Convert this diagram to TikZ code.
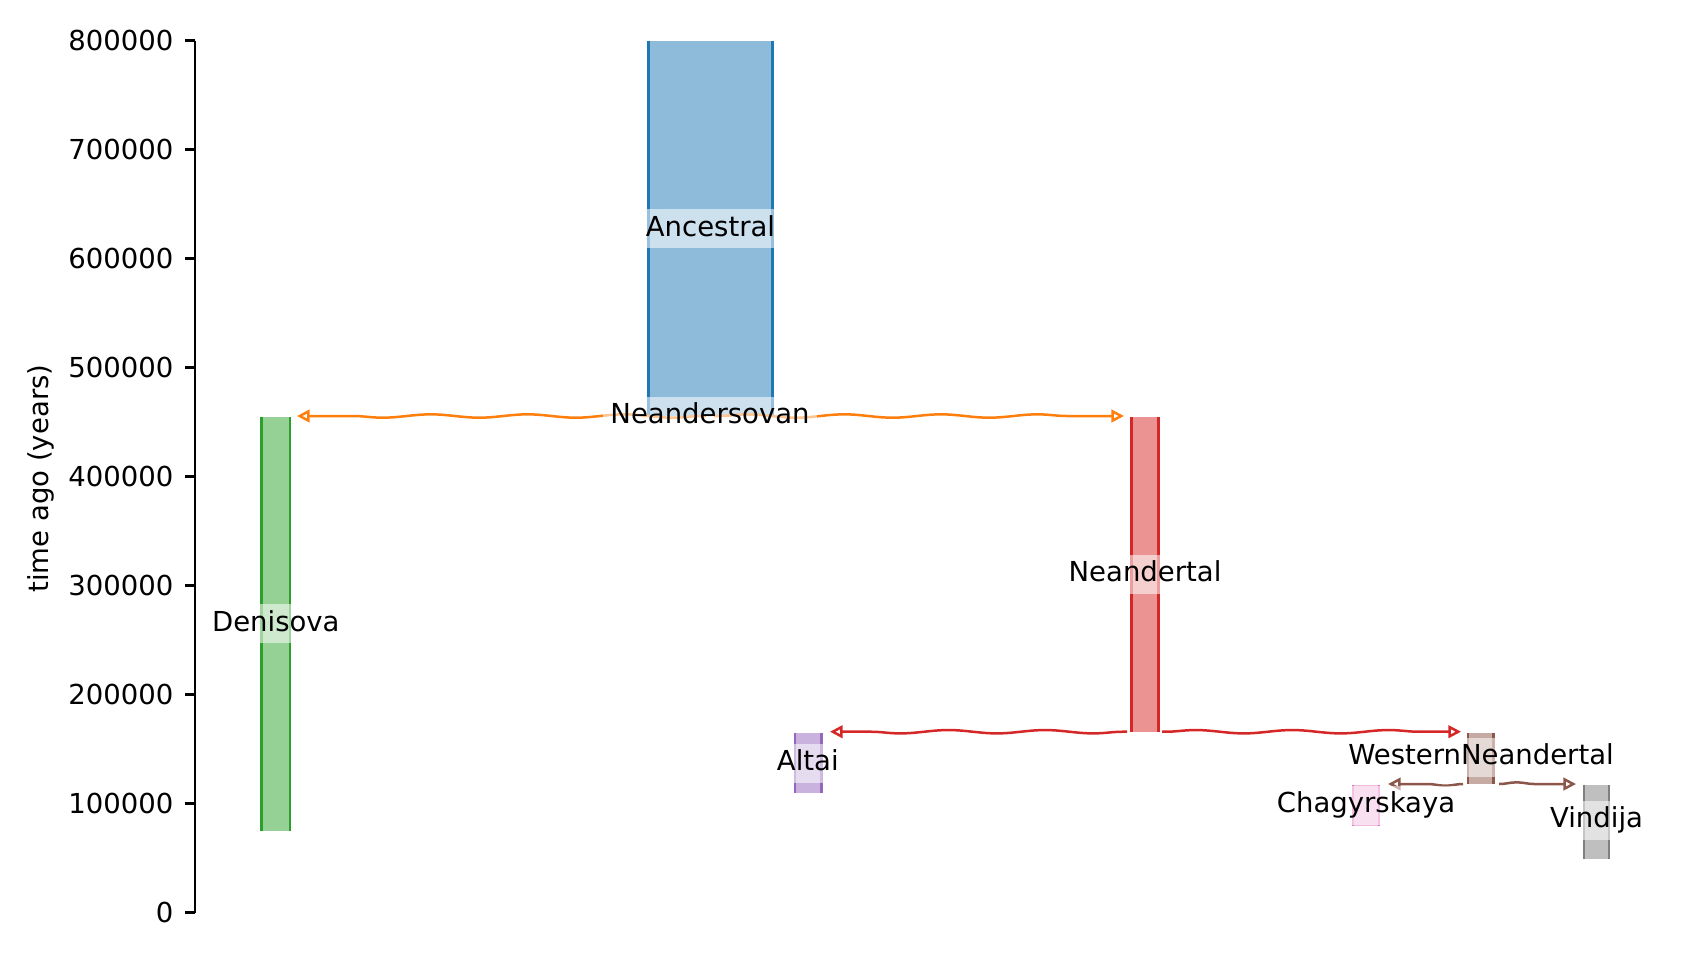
\documentclass[tikz,border=0pt]{standalone}
\usepackage{fontspec}
\setmainfont{DejaVu Sans}
\usetikzlibrary{arrows.meta,decorations.pathmorphing}
\definecolor{tabblue}{HTML}{1F77B4}
\definecolor{taborange}{HTML}{FF7F0E}
\definecolor{tabgreen}{HTML}{2CA02C}
\definecolor{tabred}{HTML}{D62728}
\definecolor{tabpurple}{HTML}{9467BD}
\definecolor{tabbrown}{HTML}{8C564B}
\definecolor{tabpink}{HTML}{E377C2}
\definecolor{tabgray}{HTML}{7F7F7F}
\tikzset{
  axisline/.style={line width=0.75pt, black},
  ticklabel/.style={anchor=east, inner sep=0pt},
  demeedge/.style={line width=0.85pt},
  demelabel/.style={fill=white, fill opacity=0.55, text opacity=1, inner xsep=2.3pt, inner ysep=0pt,
    text height=6.2pt, text depth=1.7pt, minimum height=11.7pt},
  mig/.style={line width=0.75pt, -{Triangle[open,length=3.8pt,width=3.8pt]},
    decorate, decoration={snake, amplitude=0.5pt, segment length=29pt, post length=4.5pt, pre length=1pt}},
  migshort/.style={mig, decoration={snake, amplitude=0.5pt, segment length=17pt, post length=4.5pt, pre length=0pt}},
}
\newcommand{\demebar}[6]{%
  \fill[#2!50!white] (#3,#5) rectangle (#4,#6);
  \draw[#2, demeedge] (#3,#5) -- (#3,#6);
  \draw[#2, demeedge] (#4,#5) -- (#4,#6);
  \coordinate (#1-l) at (#3,#5);
  \coordinate (#1-r) at (#4,#5);
}
\begin{document}
\begin{tikzpicture}[x=0.3pt, y=-0.3pt, font=\fontsize{8.25}{10}\selectfont]
\useasboundingbox (0,0) rectangle (1705,960);
% axis
\draw[axisline] (195,40.7) -- (195,912.7);
\foreach \k in {0,...,8} {
  \draw[axisline] (185,912.7-109*\k) -- (195,912.7-109*\k);
}
\node[ticklabel] (t0) at (174,912.7) {0};
\node[ticklabel] (t1) at (174,803.7) {100000};
\node[ticklabel] (t2) at (174,694.7) {200000};
\node[ticklabel] (t3) at (174,585.7) {300000};
\node[ticklabel] (t4) at (174,476.7) {400000};
\node[ticklabel] (t5) at (174,367.7) {500000};
\node[ticklabel] (t6) at (174,258.7) {600000};
\node[ticklabel] (t7) at (174,149.7) {700000};
\node[ticklabel] (t8) at (174,40.7) {800000};
\node[rotate=90] (ylab) at (41,478.5) {time ago (years)};
% demes
\demebar{anc}{tabblue}{648.3}{772.7}{40.7}{416}
\demebar{den}{tabgreen}{261.7}{290}{417}{830.7}
\demebar{nea}{tabred}{1131.7}{1158.3}{417}{731.7}
\demebar{alt}{tabpurple}{795}{821.5}{732.5}{793}
\demebar{wn}{tabbrown}{1468}{1493.5}{733}{784}
\demebar{cha}{tabpink}{1353}{1379}{785}{826}
\demebar{vin}{tabgray}{1584}{1609}{785}{859}
% migration / ancestry arrows
\coordinate (nsL) at (706,416);
\coordinate (nsR) at (714,416);
\coordinate (denT) at (297,416);
\coordinate (neaT) at (1124,416);
\draw[mig, taborange] (nsL) -- (denT);
\draw[mig, taborange] (nsR) -- (neaT);
\coordinate (neaL) at (1127,731.7);
\coordinate (neaR) at (1162,731.7);
\coordinate (altT) at (830,731.7);
\coordinate (wnT) at (1461,731.7);
\draw[mig, tabred] (neaL) -- (altT);
\draw[mig, tabred] (neaR) -- (wnT);
\coordinate (wnL) at (1463,784);
\coordinate (wnR) at (1499,784);
\coordinate (chaT) at (1388,784);
\coordinate (vinT) at (1576,784);
\draw[migshort, tabbrown] (wnL) -- (chaT);
\draw[migshort, tabbrown] (wnR) -- (vinT);
% labels
\node[demelabel] (Lanc) at (710.5,228.6) {Ancestral};
\node[demelabel] (Lns) at (710,416) {Neandersovan};
\node[demelabel] (Lden) at (275.8,623.5) {Denisova};
\node[demelabel] (Lnea) at (1145,574) {Neandertal};
\node[demelabel] (Lalt) at (807.8,763) {Altai};
\node[demelabel] (Lwn) at (1481,757) {WesternNeandertal};
\node[demelabel] (Lcha) at (1366,805) {Chagyrskaya};
\node[demelabel] (Lvin) at (1596.5,820) {Vindija};
\end{tikzpicture}
\end{document}
